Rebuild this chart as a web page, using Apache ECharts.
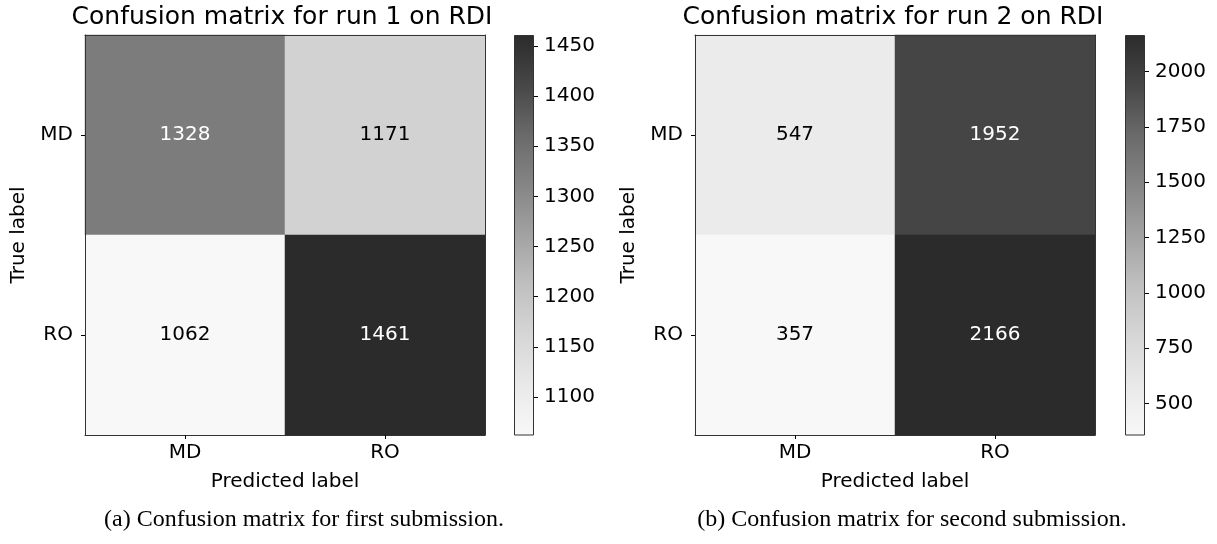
<!DOCTYPE html>
<html>
<head>
<meta charset="utf-8">
<script src="https://cdn.jsdelivr.net/npm/echarts@6/dist/echarts.min.js"></script>
<style>
html,body{margin:0;padding:0;background:#fff;}
#main{width:1217px;height:544px;}
</style>
</head>
<body>
<div id="main"></div>
<script>
// ---- data ----
const predictedLabels = ['MD', 'RO'];
const trueLabels = ['MD', 'RO'];
const run1Matrix = [[1328, 1171], [1062, 1461]];
const run2Matrix = [[547, 1952], [357, 2166]];
const run1Title = 'Confusion matrix for run 1 on RDI';
const run2Title = 'Confusion matrix for run 2 on RDI';
const run1Caption = '(a) Confusion matrix for first submission.';
const run2Caption = '(b) Confusion matrix for second submission.';
const run1CbTicks = [1100, 1150, 1200, 1250, 1300, 1350, 1400, 1450];
const run2CbTicks = [500, 750, 1000, 1250, 1500, 1750, 2000];

// ---- style ----
const FONT = 'DejaVu Sans';
const FS = 20;
const greys = ['#f8f8f8', '#e9e9e9', '#d6d6d6', '#c0c0c0', '#a2a2a2', '#858585', '#6a6a6a', '#474747', '#2b2b2b'];
const frameColor = '#333';

const chart = echarts.init(document.getElementById('main'));

function flat(m) { return m.flat(); }

function heatData(m) {
  const mn = Math.min(...flat(m)), mx = Math.max(...flat(m));
  const th = (mn + mx) / 2;
  const out = [];
  m.forEach((row, r) => row.forEach((v, c) => {
    out.push({ value: [c, r, v], label: { color: v > th ? '#ffffff' : '#000000' } });
  }));
  return out;
}

const panels = [
  { m: run1Matrix, ticks: run1CbTicks, left: 85, cbLeft: 514 },
  { m: run2Matrix, ticks: run2CbTicks, left: 695, cbLeft: 1125 }
];
const TOP = 35, H = 400, W = 400, CBW = 20;

const grid = [], xAxis = [], yAxis = [], series = [], visualMap = [];
const frameAxis = (gi, pos) => ({ gridIndex: gi, type: 'value', position: pos, min: 0, max: 1, z: 10,
  axisLine: { show: true, onZero: false, lineStyle: { color: frameColor, width: 1 } },
  axisTick: { show: false }, axisLabel: { show: false }, splitLine: { show: false } });

panels.forEach((p, i) => {
  const mn = Math.min(...flat(p.m)), mx = Math.max(...flat(p.m));
  const g = grid.length;
  grid.push({ left: p.left, top: TOP, width: W, height: H });
  grid.push({ left: p.cbLeft, top: TOP, width: CBW, height: H });
  const xi = xAxis.length, yi = yAxis.length;
  // heatmap: xi (bottom), xi+1 (top frame); yi (left), yi+1 (right frame)
  xAxis.push({ gridIndex: g, type: 'category', data: predictedLabels, position: 'bottom', z: 10,
    name: 'Predicted label', nameLocation: 'middle', nameGap: 37,
    nameTextStyle: { fontFamily: FONT, fontSize: FS, color: '#000' },
    axisLine: { show: true, lineStyle: { color: frameColor } },
    axisTick: { show: true, alignWithLabel: true, length: 4, lineStyle: { color: '#000' } },
    axisLabel: { fontFamily: FONT, fontSize: FS, color: '#000', margin: 8 },
    splitLine: { show: false } });
  xAxis.push(frameAxis(g, 'top'));
  yAxis.push({ gridIndex: g, type: 'category', data: trueLabels, inverse: true, position: 'left', z: 10,
    name: 'True label', nameLocation: 'middle', nameGap: 56, nameRotate: 90,
    nameTextStyle: { fontFamily: FONT, fontSize: FS, color: '#000' },
    axisLine: { show: true, lineStyle: { color: frameColor } },
    axisTick: { show: true, alignWithLabel: true, length: 4, lineStyle: { color: '#000' } },
    axisLabel: { fontFamily: FONT, fontSize: FS, color: '#000', margin: 12 },
    splitLine: { show: false } });
  yAxis.push(frameAxis(g, 'right'));
  // colorbar: xi+2, yi+2
  xAxis.push({ gridIndex: g + 1, type: 'category', data: ['cb'], position: 'bottom',
    axisLine: { show: false }, axisTick: { show: false }, axisLabel: { show: false }, splitLine: { show: false } });
  yAxis.push({ gridIndex: g + 1, type: 'value', min: mn, max: mx, position: 'right', z: 10,
    axisLine: { show: false },
    axisTick: { show: true, inside: false, length: 4, customValues: p.ticks, lineStyle: { color: '#000' } },
    axisLabel: { fontFamily: FONT, fontSize: FS, color: '#000', margin: 10, customValues: p.ticks,
      formatter: (v) => String(v) },
    splitLine: { show: false } });

  const si = series.length;
  series.push({ type: 'heatmap', xAxisIndex: xi, yAxisIndex: yi, data: heatData(p.m),
    label: { show: true, fontFamily: FONT, fontSize: FS, formatter: (d) => String(d.value[2]) },
    itemStyle: { borderWidth: 0 }, emphasis: { disabled: true }, silent: true });
  const stops = greys.map((c, k) => ({ offset: k / (greys.length - 1), color: c }));
  series.push({ type: 'bar', xAxisIndex: xi + 2, yAxisIndex: yi + 2, data: [mx], barWidth: '100%',
    itemStyle: { color: new echarts.graphic.LinearGradient(0, 1, 0, 0, stops), borderColor: frameColor, borderWidth: 1 },
    emphasis: { disabled: true }, silent: true, animation: false });
  visualMap.push({ type: 'continuous', show: false, seriesIndex: si, min: mn, max: mx, dimension: 2,
    inRange: { color: greys } });
});

const graphic = [
  { type: 'text', x: 282, y: 17, style: { text: run1Title, font: '25px "DejaVu Sans"', fill: '#000', textAlign: 'center', textVerticalAlign: 'middle' } },
  { type: 'text', x: 893, y: 17, style: { text: run2Title, font: '25px "DejaVu Sans"', fill: '#000', textAlign: 'center', textVerticalAlign: 'middle' } },
  { type: 'text', x: 304, y: 520, style: { text: run1Caption, font: '24px "Liberation Serif"', fill: '#000', textAlign: 'center', textVerticalAlign: 'middle' } },
  { type: 'text', x: 912, y: 520, style: { text: run2Caption, font: '24px "Liberation Serif"', fill: '#000', textAlign: 'center', textVerticalAlign: 'middle' } }
];

chart.setOption({
  animation: false,
  backgroundColor: '#fff',
  grid, xAxis, yAxis, series, visualMap, graphic
});
</script>
</body>
</html>
